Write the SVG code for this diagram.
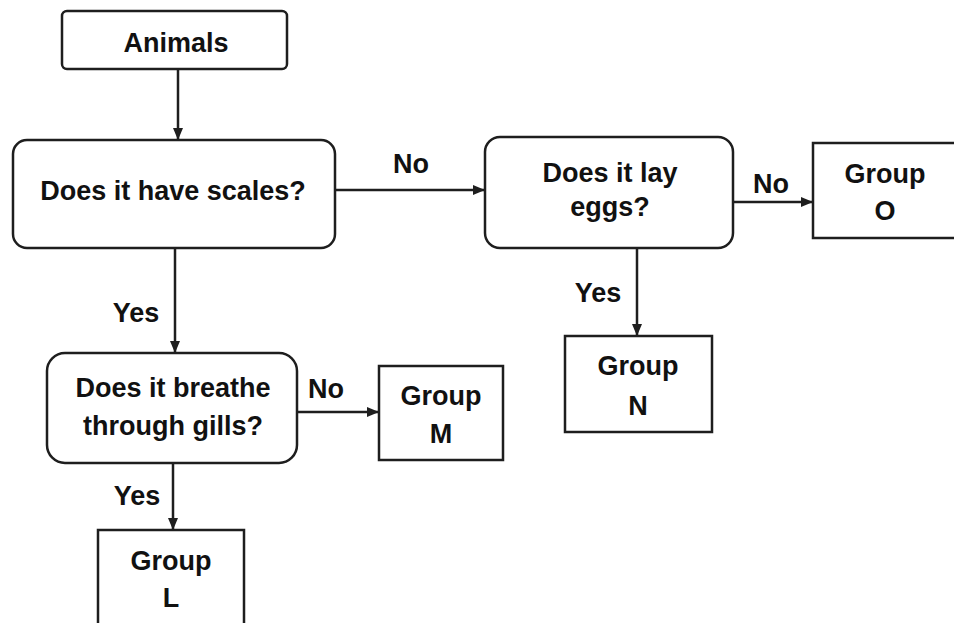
<svg xmlns="http://www.w3.org/2000/svg" width="954" height="623" viewBox="0 0 954 623">
<style>
.box{fill:#fff;stroke:#1e1e1e;stroke-width:2.5}
.t{font-family:"Liberation Sans",Arial,sans-serif;font-weight:bold;font-size:27px;fill:#111;text-anchor:middle}
.c{fill:none;stroke:#1e1e1e;stroke-width:2.5}
</style>
<defs>
<marker id="ah" viewBox="0 0 12 10" refX="12" refY="5" markerWidth="12" markerHeight="10" markerUnits="userSpaceOnUse" orient="auto">
<path d="M0,0 L12,5 L0,10 Z" fill="#1e1e1e"/>
</marker>
</defs>
<rect width="954" height="623" fill="#fff"/>
<g id="connectors">
<line class="c" x1="178" y1="69" x2="178" y2="140" marker-end="url(#ah)"/>
<line class="c" x1="335" y1="190" x2="485" y2="190" marker-end="url(#ah)"/>
<line class="c" x1="733" y1="202" x2="813" y2="202" marker-end="url(#ah)"/>
<line class="c" x1="175" y1="248" x2="175" y2="353" marker-end="url(#ah)"/>
<line class="c" x1="637" y1="248" x2="637" y2="336" marker-end="url(#ah)"/>
<line class="c" x1="297" y1="412" x2="379" y2="412" marker-end="url(#ah)"/>
<line class="c" x1="173" y1="463" x2="173" y2="530" marker-end="url(#ah)"/>
<text class="t" x="411" y="173">No</text>
<text class="t" x="771" y="193">No</text>
<text class="t" x="326" y="398">No</text>
<text class="t" x="136" y="322">Yes</text>
<text class="t" x="137" y="505">Yes</text>
<text class="t" x="598" y="302">Yes</text>
</g>
<g id="animals">
<rect class="box" x="62" y="11" width="225" height="58" rx="5"/>
<text class="t" x="176" y="52">Animals</text>
</g>
<g id="scales">
<rect class="box" x="13" y="140" width="322" height="108" rx="14"/>
<text class="t" x="173" y="200">Does it have scales?</text>
</g>
<g id="eggs">
<rect class="box" x="485" y="137" width="248" height="111" rx="15"/>
<text class="t" x="610" y="182">Does it lay</text>
<text class="t" x="610" y="216">eggs?</text>
</g>
<g id="groupO">
<rect class="box" x="813" y="143" width="160" height="95"/>
<text class="t" x="885" y="183">Group</text>
<text class="t" x="885" y="220">O</text>
</g>
<g id="gills">
<rect class="box" x="47" y="353" width="250" height="110" rx="18"/>
<text class="t" x="173" y="397">Does it breathe</text>
<text class="t" x="173" y="435">through gills?</text>
</g>
<g id="groupM">
<rect class="box" x="379" y="366" width="124" height="94"/>
<text class="t" x="441" y="405">Group</text>
<text class="t" x="441" y="443">M</text>
</g>
<g id="groupN">
<rect class="box" x="565" y="336" width="147" height="96"/>
<text class="t" x="638" y="375">Group</text>
<text class="t" x="638" y="415">N</text>
</g>
<g id="groupL">
<rect class="box" x="98" y="530" width="146" height="120"/>
<text class="t" x="171" y="570">Group</text>
<text class="t" x="171" y="607">L</text>
</g>
</svg>
